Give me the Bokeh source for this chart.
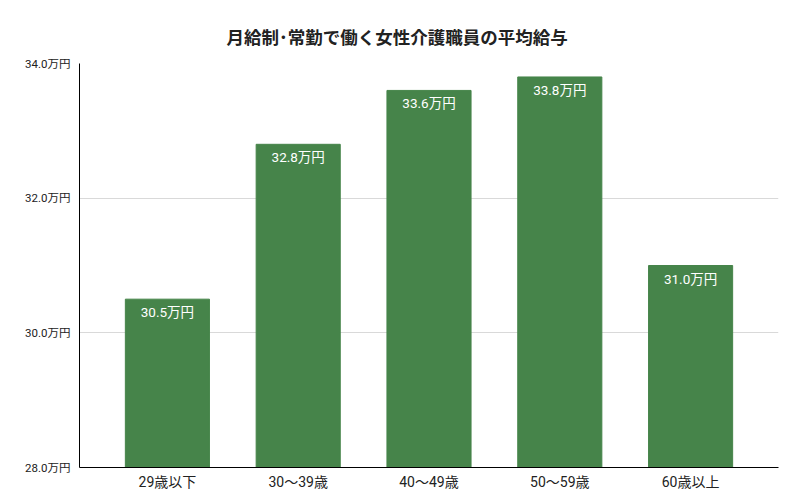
from bokeh.plotting import figure
from bokeh.models import FactorRange, Range1d, FixedTicker, ColumnDataSource
from bokeh.core.properties import value
from bokeh.embed import file_html
from bokeh.resources import INLINE

title_text = "月給制･常勤で働く女性介護職員の平均給与"
categories = ["29歳以下", "30〜39歳", "40〜49歳", "50〜59歳", "60歳以上"]
salaries = [30.5, 32.8, 33.6, 33.8, 31.0]
bar_labels = ["30.5万円", "32.8万円", "33.6万円", "33.8万円", "31.0万円"]
y_ticks = [28.0, 30.0, 32.0, 34.0]
y_tick_labels = ["28.0万円", "30.0万円", "32.0万円", "34.0万円"]

FONT = "Roboto, 'Noto Sans CJK JP'"
BAR_COLOR = "#46844a"

src = ColumnDataSource(dict(cat=categories, val=salaries, lab=bar_labels,
                            base=[y_ticks[0]] * len(categories)))

p = figure(width=787, height=492, output_backend="svg", toolbar_location=None,
           x_range=FactorRange(*categories, range_padding=0.172, range_padding_units="absolute"),
           y_range=Range1d(y_ticks[0], y_ticks[-1]),
           min_border_left=79, min_border_right=9, min_border_top=63, min_border_bottom=23)

p.title.text = title_text
p.title.align = "left"
p.title.offset = 147
p.title.text_font = "'Noto Sans CJK JP', Roboto"
p.title.text_font_size = "17.5px"
p.title.text_font_style = "bold"
p.title.text_color = "#222222"
p.title.standoff = 29

p.vbar(x="cat", top="val", bottom="base", width=0.643, color=BAR_COLOR, source=src)
p.text(x="cat", y="val", text="lab", source=src, text_color="white",
       text_font=value(FONT), text_font_size="13.5px", text_align="center",
       text_baseline="middle", y_offset=13)

p.outline_line_color = None
p.background_fill_color = "white"
p.xgrid.grid_line_color = None
p.ygrid.grid_line_color = "#d9d9d9"
p.ygrid.ticker = FixedTicker(ticks=y_ticks)

p.yaxis.ticker = FixedTicker(ticks=y_ticks)
p.yaxis.major_label_overrides = {t: l for t, l in zip(y_ticks, y_tick_labels)}
p.yaxis.major_tick_line_color = None
p.yaxis.minor_tick_line_color = None
p.yaxis.axis_line_color = "black"
p.yaxis.major_label_text_font = FONT
p.yaxis.major_label_text_font_size = "11.5px"
p.yaxis.major_label_text_color = "#222222"
p.yaxis.major_label_standoff = 3

p.xaxis.major_tick_line_color = None
p.xaxis.axis_line_color = "black"
p.xaxis.major_label_text_font = FONT
p.xaxis.major_label_text_font_size = "14px"
p.xaxis.major_label_text_color = "#222222"
p.xaxis.major_label_standoff = 0

open("out.html", "w").write(file_html(p, INLINE))
